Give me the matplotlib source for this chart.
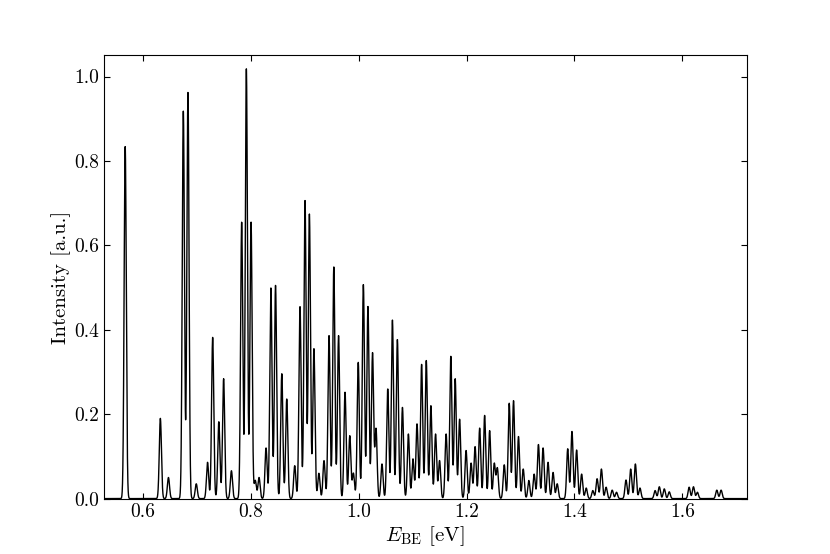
import numpy as np
import matplotlib
matplotlib.use("Agg")
import matplotlib.pyplot as plt

plt.rcParams['font.family'] = ['cmr10']
plt.rcParams['mathtext.fontset'] = 'cm'
plt.rcParams['axes.formatter.use_mathtext'] = True
plt.rcParams['axes.unicode_minus'] = False

# Peak positions (eV) and heights (a.u.)
peak_pos = [
    0.5668, 0.632, 0.647, 0.6746, 0.6832, 0.6986, 0.7195, 0.7290, 0.7404, 0.7493,
    0.7638, 0.7828, 0.7915, 0.8002, 0.8080, 0.8150, 0.8280, 0.8370, 0.8456, 0.8572,
    0.8664, 0.8812, 0.8910, 0.9003, 0.9084, 0.9168, 0.9260, 0.9355, 0.9448, 0.9537,
    0.9625, 0.9745, 0.9833, 0.9900, 0.9990, 1.0085, 1.0170, 1.0255, 1.0320, 1.0430,
    1.0537, 1.0624, 1.0716, 1.0810, 1.0920, 1.1005, 1.1080, 1.1165, 1.1252, 1.1337,
    1.1424, 1.1498, 1.1620, 1.1707, 1.1788, 1.1870, 1.1990, 1.2083, 1.2157, 1.2242,
    1.2334, 1.2427, 1.2513, 1.2570, 1.2698, 1.2790, 1.2870, 1.2962, 1.3050, 1.3154,
    1.3252, 1.3332, 1.3418, 1.3510, 1.3603, 1.3680, 1.3875, 1.3954, 1.4040, 1.4133,
    1.4218, 1.4340, 1.4420, 1.4500, 1.4587, 1.4700, 1.4780, 1.4956, 1.5043, 1.5130,
    1.5215, 1.5496, 1.5574, 1.5666, 1.5758, 1.6127, 1.6207, 1.6280, 1.6640, 1.6720,
]
peak_height = [
    0.834, 0.19, 0.05, 0.918, 0.963, 0.035, 0.086, 0.382, 0.182, 0.284,
    0.066, 0.655, 1.018, 0.655, 0.043, 0.05, 0.12, 0.499, 0.505, 0.296,
    0.236, 0.078, 0.455, 0.706, 0.674, 0.355, 0.06, 0.09, 0.386, 0.549,
    0.386, 0.252, 0.149, 0.06, 0.323, 0.507, 0.455, 0.345, 0.165, 0.082,
    0.26, 0.423, 0.377, 0.216, 0.153, 0.094, 0.177, 0.318, 0.327, 0.22,
    0.153, 0.09, 0.153, 0.337, 0.284, 0.188, 0.114, 0.084, 0.123, 0.167,
    0.197, 0.161, 0.083, 0.072, 0.08, 0.226, 0.232, 0.147, 0.07, 0.043,
    0.058, 0.128, 0.12, 0.086, 0.062, 0.035, 0.118, 0.159, 0.115, 0.058,
    0.025, 0.019, 0.047, 0.070, 0.027, 0.02, 0.015, 0.044, 0.070, 0.082,
    0.025, 0.019, 0.028, 0.023, 0.016, 0.027, 0.028, 0.015, 0.02, 0.02,
]
line_width_ev = 0.002  # Gaussian broadening (sigma)

x_range = (0.527, 1.72)
y_range = (0.0, 1.05)
x_ticks = [0.6, 0.8, 1.0, 1.2, 1.4, 1.6]
y_ticks = [0.0, 0.2, 0.4, 0.6, 0.8, 1.0]

E = np.linspace(x_range[0], x_range[1], 6000)
pos = np.array(peak_pos)[:, None]
amp = np.array(peak_height)[:, None]
I = (amp * np.exp(-(E[None, :] - pos) ** 2 / (2 * line_width_ev ** 2))).sum(axis=0)

fig = plt.figure(figsize=(8.3, 5.54), dpi=100)
ax = fig.add_axes([0.125, 0.1, 0.775, 0.8])
ax.plot(E, I, color='black', lw=1.0)
ax.set_xlim(*x_range)
ax.set_ylim(*y_range)
ax.set_xticks(x_ticks)
ax.set_yticks(y_ticks)
ax.set_xticklabels([f"{t:.1f}" for t in x_ticks])
ax.set_yticklabels([f"{t:.1f}" for t in y_ticks])
ax.tick_params(direction='in', top=True, right=True, labelsize=14, length=4)
ax.set_xlabel(r'$E_{\rm BE}$ [eV]', fontsize=15, labelpad=2)
ax.set_ylabel('Intensity [a.u.]', fontsize=15, labelpad=2)
fig.savefig('out.png', dpi=100)
